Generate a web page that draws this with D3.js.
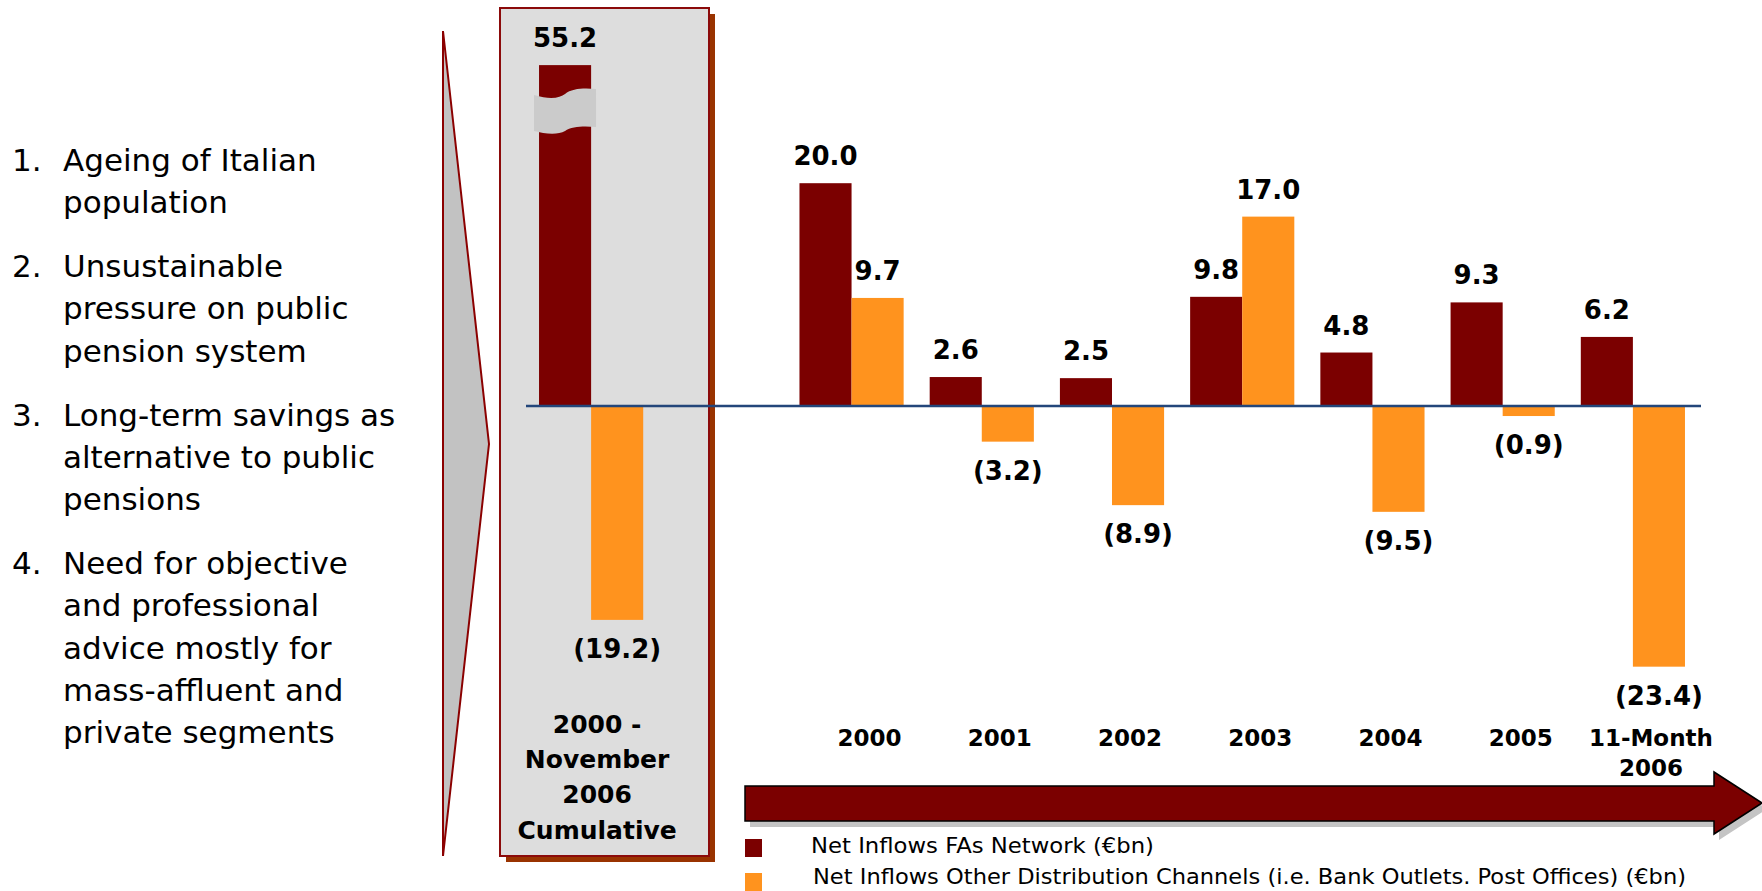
<!DOCTYPE html>
<html>
<head>
<meta charset="utf-8">
<script src="https://cdn.jsdelivr.net/npm/d3@7"></script>
<style>
  body { margin: 0; background: #fff; }
  text { font-family: "DejaVu Sans", Verdana, sans-serif; }
</style>
</head>
<body>
<div class="chart"></div>
<script>
// data
const periods = ["Cumulative", "2000", "2001", "2002", "2003", "2004", "2005", "11-Month 2006"];
const faNetwork = [55.2, 20.0, 2.6, 2.5, 9.8, 4.8, 9.3, 6.2];
const otherChannels = [-19.2, 9.7, -3.2, -8.9, 17.0, -9.5, -0.9, -23.4];
const periodLabels = [["2000 -", "November", "2006", "Cumulative"], ["2000"], ["2001"], ["2002"], ["2003"], ["2004"], ["2005"], ["11-Month", "2006"]];
const seriesNames = ["Net Inflows FAs Network (€bn)", "Net Inflows Other Distribution Channels (i.e. Bank Outlets. Post Offices) (€bn)"];
const drivers = [
  ["Ageing of Italian", "population"],
  ["Unsustainable", "pressure on public", "pension system"],
  ["Long-term savings as", "alternative to public", "pensions"],
  ["Need for objective", "and professional", "advice mostly for", "mass-affluent and", "private segments"]
];

const w = 1762;
const h = 891;
const dark = "#7b0000";
const orange = "#ff931e";
const breakValue = 30.6;   // cumulative bar is cut (axis break)

const svg = d3.select(".chart")
              .append("svg")
              .attr("width", w)
              .attr("height", h);

// slot list has an empty slot between cumulative and the yearly bars
const slots = [periods[0], "gap"].concat(periods.slice(1));
const x0 = d3.scaleBand()
             .domain(slots)
             .range([526, 1698])
             .padding(0);
const bw = x0.bandwidth() * 0.4;
const y = d3.scaleLinear()
            .domain([-25, 30])
            .range([406 + 25 * 11.14, 406 - 30 * 11.14]);
const cx = p => x0(p) + x0.bandwidth() / 2;
const fmt = d3.format(".1f");
const lbl = v => v < 0 ? "(" + fmt(-v) + ")" : fmt(v);

// left bullet list
let ly = 171;
drivers.forEach((item, i) => {
  svg.append("text").attr("x", 12).attr("y", ly)
     .attr("font-size", 31).text((i + 1) + ".");
  item.forEach((line, j) => {
    svg.append("text").attr("x", 63).attr("y", ly + j * 42.3)
       .attr("font-size", 31).text(line);
  });
  ly += item.length * 42.3 + 21.5;
});

// grey wedge
svg.append("path")
   .attr("d", "M443,31 L489,444 L443,856 Z")
   .attr("fill", "#c2c2c2")
   .attr("stroke", "#8b0000")
   .attr("stroke-width", 2);

// cumulative box with shadow
svg.append("rect").attr("x", 506).attr("y", 14).attr("width", 209).attr("height", 848)
   .attr("fill", "#993300");
svg.append("rect").attr("x", 500).attr("y", 8).attr("width", 209).attr("height", 848)
   .attr("fill", "#dddddd").attr("stroke", "#8b0a0a").attr("stroke-width", 2);

// bars
const rows = periods.map((p, i) => ({p: p, a: faNetwork[i], b: otherChannels[i]}));

svg.selectAll("rect.fa")
   .data(rows)
   .enter()
   .append("rect")
   .attr("class", "fa")
   .attr("x", d => cx(d.p) - bw)
   .attr("y", d => y(Math.min(d.a, breakValue)))
   .attr("width", bw)
   .attr("height", d => y(0) - y(Math.min(d.a, breakValue)))
   .attr("fill", dark);

svg.selectAll("rect.oth")
   .data(rows)
   .enter()
   .append("rect")
   .attr("class", "oth")
   .attr("x", d => cx(d.p))
   .attr("y", d => y(Math.max(d.b, 0)))
   .attr("width", bw)
   .attr("height", d => Math.abs(y(d.b) - y(0)))
   .attr("fill", orange);

// break mark on the cumulative bar
const bx = cx(periods[0]) - bw - 5;
const by = y(breakValue) + 30;
svg.append("path")
   .attr("d", `M${bx},${by} C${bx + 16},${by + 5} ${bx + 26},${by + 3} ${bx + 31},${by - 1}
     C${bx + 38},${by - 7} ${bx + 51},${by - 7} ${bx + 62},${by - 6}
     L${bx + 62},${by + 32} C${bx + 51},${by + 31} ${bx + 38},${by + 31} ${bx + 31},${by + 36}
     C${bx + 24},${by + 40} ${bx + 11},${by + 39} ${bx},${by + 36} Z`)
   .attr("fill", "#cbcbcb");

// zero line
svg.append("line")
   .attr("x1", 526).attr("x2", 1701)
   .attr("y1", y(0)).attr("y2", y(0))
   .attr("stroke", "#23467a").attr("stroke-width", 2.5);

// value labels
function valueLabel(v, xc, shown) {
  const yy = v >= 0 ? y(shown) - 27 : y(shown) + 29;
  svg.append("text")
     .attr("x", xc).attr("y", yy)
     .attr("text-anchor", "middle")
     .attr("dominant-baseline", "central")
     .attr("font-size", 26).attr("font-weight", "bold")
     .text(lbl(v));
}
rows.forEach(d => {
  valueLabel(d.a, cx(d.p) - bw / 2, Math.min(d.a, breakValue));
  valueLabel(d.b, cx(d.p) + bw / 2, d.b);
});

// category labels
periodLabels.forEach((lines, i) => {
  const first = i === 0;
  lines.forEach((t, j) => {
    svg.append("text")
       .attr("x", cx(periods[i]) + (first ? 6 : 18))
       .attr("y", (first ? 724 : 737.5) + j * (first ? 35.4 : 30.5))
       .attr("text-anchor", "middle")
       .attr("dominant-baseline", "central")
       .attr("font-size", first ? 25 : 23)
       .attr("font-weight", "bold")
       .text(t);
  });
});

// time arrow
const arrow = "M745,786 L1714,786 L1714,772 L1762,803 L1714,834 L1714,821 L745,821 Z";
svg.append("path").attr("d", arrow).attr("transform", "translate(5,6)").attr("fill", "#c4c4c4");
svg.append("path").attr("d", arrow).attr("fill", dark).attr("stroke", "#000").attr("stroke-width", 1.5);

// legend
const legendY = [848, 882];
[dark, orange].forEach((c, i) => {
  svg.append("rect").attr("x", 745).attr("y", legendY[i] - 9).attr("width", 17).attr("height", 18).attr("fill", c);
});
svg.append("text").attr("x", 811).attr("y", 845).attr("dominant-baseline", "central")
   .attr("font-size", 22).attr("textLength", 343).attr("lengthAdjust", "spacingAndGlyphs").text(seriesNames[0]);
svg.append("text").attr("x", 813).attr("y", 877).attr("dominant-baseline", "central")
   .attr("font-size", 21).attr("textLength", 873).attr("lengthAdjust", "spacingAndGlyphs").text(seriesNames[1]);
</script>
</body>
</html>
